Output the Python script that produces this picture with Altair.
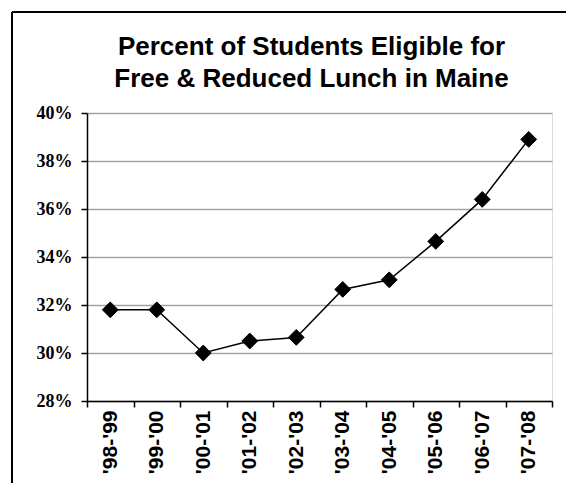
import altair as alt
import pandas as pd

periods = ["'98-'99", "'99-'00", "'00-'01", "'01-'02", "'02-'03",
           "'03-'04", "'04-'05", "'05-'06", "'06-'07", "'07-'08"]
percent = [31.8, 31.8, 30.0, 30.5, 30.65, 32.65, 33.05, 34.65, 36.4, 38.9]
y_ticks = [28, 30, 32, 34, 36, 38, 40]
title_lines = ["Percent of Students Eligible for", "Free & Reduced Lunch in Maine"]

df = pd.DataFrame({"period": periods, "pct": percent})

W, H = 465, 288

x_enc = alt.X(
    "period:N",
    sort=periods,
    title=None,
    scale=alt.Scale(type="band", paddingInner=0, paddingOuter=0),
    axis=alt.Axis(
        labelAngle=270,
        labelFont="Liberation Sans",
        labelFontWeight="bold",
        labelFontSize=21,
        labelColor="black",
        labelPadding=3,
        tickBand="extent",
        tickSize=6,
        tickColor="black",
        tickWidth=1.5,
        domainColor="black",
        domainWidth=1.5,
        grid=False,
    ),
)
y_enc = alt.Y(
    "pct:Q",
    title=None,
    scale=alt.Scale(domain=[28, 40], nice=False, zero=False),
    axis=alt.Axis(
        values=y_ticks,
        labelExpr="datum.value + '%'",
        labelFont="Liberation Serif",
        labelFontWeight="bold",
        labelFontSize=18,
        labelColor="black",
        labelPadding=9,
        tickSize=6,
        tickColor="black",
        tickWidth=1.5,
        domainColor="black",
        domainWidth=1.5,
        grid=True,
        gridColor="#a3a3a3",
        gridWidth=1.5,
    ),
)

base = alt.Chart(df).encode(x=x_enc, y=y_enc)
line = base.mark_line(color="black", strokeWidth=1.5)
points = base.mark_point(shape="diamond", filled=True, color="black", size=250, opacity=1,
                         stroke="black", strokeWidth=1)

frame_df = pd.DataFrame({"a": [0]})
top_border = alt.Chart(frame_df).mark_rule(color="black", strokeWidth=2).encode(
    x=alt.value(-75), x2=alt.value(480), y=alt.value(-101)
)
left_border = alt.Chart(frame_df).mark_rule(color="black", strokeWidth=2).encode(
    x=alt.value(-75), y=alt.value(-101), y2=alt.value(380)
)

chart = alt.layer(line, points, top_border, left_border).properties(
    width=W,
    height=H,
    padding={"left": 79, "top": 105, "right": 14, "bottom": 82},
    autosize=alt.AutoSizeParams(type="none"),
    title=alt.TitleParams(
        text=title_lines,
        font="Liberation Sans",
        fontSize=26,
        fontWeight="bold",
        color="black",
        anchor="middle",
        frame="group",
        baseline="bottom",
        lineHeight=32,
        offset=0,
        dy=107,
        dx=-8,
    ),
).configure_view(stroke="transparent").configure(background="white")

chart.save("out.html", embed_options={"renderer": "svg", "actions": False})
